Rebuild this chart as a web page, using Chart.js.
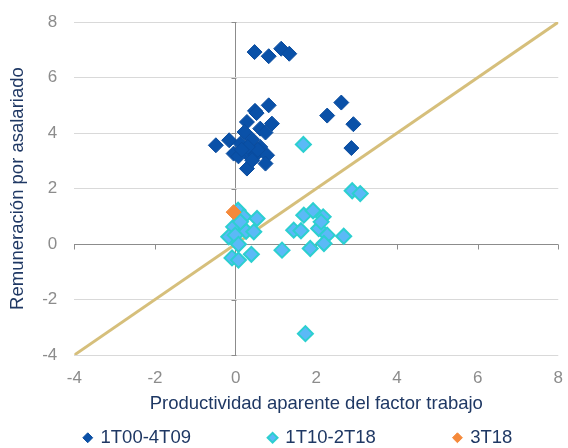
<!DOCTYPE html>
<html lang="es">
<head>
    <script src="https://cdn.jsdelivr.net/npm/chart.js"></script>
    <style>
        body { margin: 0; background: #fff; }
        #wrap { width: 568px; height: 448px; }
    </style>
</head>
<body>
<div id="wrap"><canvas id="scatterChart"></canvas></div>
<script>
    // 1T00-4T09
    const s1x = [0.47, 0.82, 1.13, 1.33, 0.48, 0.52, 0.82, 2.62, 2.27, 2.92, 2.87,
                 0.28, 0.90, 0.61, 0.74, 0.22, -0.49, -0.16, 0.12, 0.41, 0.61,
                 -0.05, 0.24, 0.49, 0.78, 0.74, 0.28, 0.07, 0.41, 0.55, 0.30, 0.15];
    const s1y = [6.92, 6.77, 7.04, 6.86, 4.80, 4.72, 5.00, 5.10, 4.63, 4.32, 3.46,
                 4.40, 4.34, 4.16, 4.02, 4.04, 3.56, 3.74, 3.62, 3.77, 3.50,
                 3.26, 3.32, 3.20, 3.20, 2.90, 2.72, 3.16, 3.02, 3.40, 3.50, 3.40];
    // 1T10-2T18
    const s2x = [0.06, 0.20, 0.53, -0.05, 0.26, 0.45, -0.17, -0.01, 0.07, 0.39, -0.09, 0.07, 1.15,
                 2.89, 3.09, 1.69, 1.92, 2.17, 1.44, 1.62, 2.06, 2.27, 2.68, 2.19, 1.85,
                 1.68, 1.73, 0.12, 2.12];
    const s2y = [1.22, 0.98, 0.92, 0.62, 0.46, 0.44, 0.26, 0.32, -0.01, -0.37, -0.50, -0.58, -0.22,
                 1.92, 1.82, 1.04, 1.20, 0.98, 0.50, 0.48, 0.56, 0.32, 0.28, 0.02, -0.16,
                 3.59, -3.23, 0.80, 0.80];
    // 3T18
    const s3x = [-0.05];
    const s3y = [1.15];
    // 45 degree line
    const diagX = [-4, 8];
    const diagY = [-4, 8];

    const seriesNames = ["1T00-4T09", "1T10-2T18", "3T18"];
    const axisTicks = [-4, -2, 0, 2, 4, 6, 8];

    const toPts = (xs, ys) => xs.map((x, i) => ({ x: x, y: ys[i] }));
    const FONT = 'Liberation Sans, Arial, sans-serif';

    // axis cross at zero with little tick marks
    const zeroTicks = {
        id: 'zeroTicks',
        beforeDatasetsDraw(chart) {
            const c = chart.ctx, xs = chart.scales.x, ys = chart.scales.y;
            const x0 = Math.round(xs.getPixelForValue(0)) + 0.5;
            const y0 = Math.round(ys.getPixelForValue(0)) + 0.5;
            c.save();
            c.strokeStyle = '#8c8c8c';
            c.lineWidth = 1;
            c.beginPath();
            axisTicks.forEach(v => {
                const px = Math.round(xs.getPixelForValue(v)) + 0.5;
                c.moveTo(px, y0); c.lineTo(px, y0 + 5);
                const py = Math.round(ys.getPixelForValue(v)) + 0.5;
                c.moveTo(x0, py); c.lineTo(x0 - 5, py);
            });
            c.stroke();
            c.restore();
        }
    };

    // spread the legend entries apart like the original
    const legendGap = ['               ', '               ', '       '];

    const ctx = document.getElementById('scatterChart').getContext('2d');
    new Chart(ctx, {
        type: 'scatter',
        data: {
            datasets: [
                {
                    label: seriesNames[0],
                    data: toPts(s1x, s1y),
                    pointStyle: 'rectRot',
                    pointRadius: 7.5,
                    backgroundColor: '#0a51a8',
                    borderColor: '#0a4c9e',
                    borderWidth: 1,
                    order: 1
                },
                {
                    label: seriesNames[1],
                    data: toPts(s2x, s2y),
                    pointStyle: 'rectRot',
                    pointRadius: 7.5,
                    backgroundColor: '#5bb9f7',
                    borderColor: '#2ccfd0',
                    borderWidth: 2,
                    order: 1
                },
                {
                    label: seriesNames[2],
                    data: toPts(s3x, s3y),
                    pointStyle: 'rectRot',
                    pointRadius: 7.5,
                    backgroundColor: '#f5893a',
                    borderColor: '#f5893a',
                    borderWidth: 1,
                    order: 0
                },
                {
                    type: 'line',
                    label: 'diag',
                    data: toPts(diagX, diagY),
                    borderColor: '#d6bf7b',
                    borderWidth: 3,
                    pointRadius: 0,
                    fill: false,
                    order: 3
                }
            ]
        },
        options: {
            responsive: true,
            maintainAspectRatio: false,
            animation: false,
            layout: { padding: { top: 0, right: 1, left: 0, bottom: 0 } },
            scales: {
                x: {
                    type: 'linear',
                    min: -4, max: 8,
                    border: { display: false },
                    grid: {
                        drawTicks: false,
                        color: c => c.tick && c.tick.value === 0 ? '#8c8c8c' : 'rgba(0,0,0,0)'
                    },
                    ticks: {
                        stepSize: 2,
                        padding: 5,
                        color: '#8c8c8c',
                        font: { family: FONT, size: 17, lineHeight: 2.1 }
                    },
                    title: {
                        display: true,
                        text: 'Productividad aparente del factor trabajo',
                        color: '#1f3864',
                        font: { family: FONT, size: 18.5 },
                        padding: { top: -7.8, bottom: 12.4 }
                    }
                },
                y: {
                    min: -4, max: 8,
                    border: { display: false },
                    grid: {
                        drawTicks: false,
                        color: c => c.tick && c.tick.value === 0 ? '#8c8c8c' : '#d9d9d9'
                    },
                    ticks: {
                        stepSize: 2,
                        padding: 17,
                        color: '#8c8c8c',
                        font: { family: FONT, size: 17, lineHeight: 0.6 }
                    },
                    title: {
                        display: true,
                        text: 'Remuneración por asalariado',
                        color: '#1f3864',
                        font: { family: FONT, size: 18.5 },
                        padding: { top: 7, bottom: -4 }
                    }
                }
            },
            plugins: {
                legend: {
                    position: 'bottom',
                    fullSize: false,
                    maxHeight: 20.5,
                    labels: {
                        usePointStyle: true,
                        boxWidth: 7,
                        boxHeight: 7,
                        padding: 1,
                        color: '#1f3864',
                        font: { family: FONT, size: 18.5 },
                        sort: (a, b) => a.datasetIndex - b.datasetIndex,
                        generateLabels: chart => Chart.defaults.plugins.legend.labels
                            .generateLabels(chart)
                            .filter(l => l.datasetIndex < 3)
                            .map(l => Object.assign(l, { text: l.text + legendGap[l.datasetIndex] }))
                    }
                },
                tooltip: { enabled: false }
            }
        },
        plugins: [zeroTicks]
    });
</script>
</body>
</html>
